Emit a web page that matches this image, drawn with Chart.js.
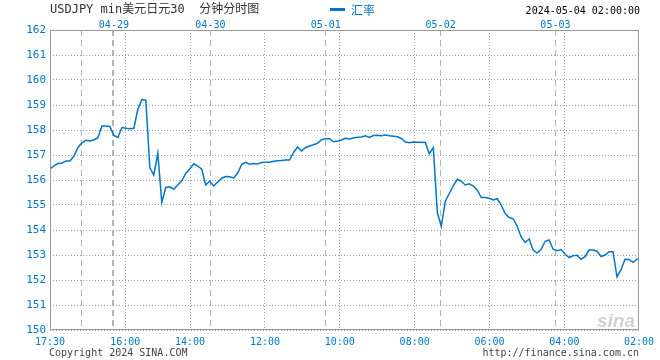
<!DOCTYPE html>
<html><head><meta charset="utf-8">
<script src="https://cdn.jsdelivr.net/npm/chart.js@4.4.1/dist/chart.umd.min.js"></script>
<style>
html,body{margin:0;padding:0;background:#fff;}
#wrap{position:relative;width:660px;height:360px;overflow:hidden;background:#fff;}
canvas{position:absolute;left:0;top:0;}
.t{position:absolute;white-space:pre;font-family:"DejaVu Sans Mono","Noto Sans CJK SC",monospace;line-height:12px;}
</style></head><body>
<div id="wrap">
<canvas id="c" width="660" height="360"></canvas>
<div class="t" style="left:50px;top:3px;font-size:12px;color:#333;">USDJPY min美元日元30  分钟分时图</div>
<div style="position:absolute;left:330px;top:8px;width:15px;height:3px;background:#0078c8"></div>
<div class="t" style="left:351px;top:4px;font-size:12px;color:#0078c8;font-family:'Noto Sans CJK SC',sans-serif;">汇率</div>
<div class="t" style="right:20px;top:5px;font-size:10px;color:#000;">2024-05-04 02:00:00</div>
<div class="t" style="left:49px;top:347px;font-size:10px;color:#444;">Copyright 2024 SINA.COM</div>
<div class="t" style="right:21px;top:347px;font-size:10px;color:#444;">http://finance.sina.com.cn</div>
<div class="t" style="left:597px;top:311px;font-size:19px;line-height:19px;color:#d2d2d2;font-family:'Liberation Sans',sans-serif;font-weight:bold;font-style:italic;">sina</div>
</div>
<script>
const seriesName = '汇率';
const rateValues = [
156.44,156.57,156.66,156.68,156.76,156.76,156.96,157.30,157.49,157.59,
157.56,157.60,157.69,158.16,158.16,158.14,157.78,157.70,158.10,158.07,
158.05,158.07,158.83,159.22,159.19,156.50,156.20,157.07,155.10,155.70,
155.73,155.63,155.80,155.97,156.26,156.44,156.65,156.56,156.43,155.80,
155.96,155.76,155.92,156.07,156.14,156.13,156.08,156.28,156.62,156.71,
156.63,156.66,156.64,156.70,156.71,156.71,156.75,156.77,156.78,156.80,
156.80,157.10,157.32,157.16,157.30,157.36,157.41,157.47,157.61,157.65,
157.65,157.53,157.56,157.60,157.67,157.64,157.68,157.71,157.72,157.77,
157.70,157.78,157.79,157.77,157.80,157.77,157.75,157.73,157.66,157.52,
157.49,157.52,157.51,157.51,157.50,157.05,157.30,154.70,154.15,155.15,
155.46,155.77,156.03,155.95,155.80,155.85,155.76,155.60,155.30,155.30,
155.27,155.20,155.25,155.00,154.66,154.50,154.45,154.15,153.72,153.50,
153.64,153.20,153.08,153.23,153.55,153.60,153.23,153.17,153.22,153.04,
152.90,152.97,152.99,152.83,152.93,153.20,153.20,153.15,152.94,153.00,
153.13,153.13,152.13,152.40,152.83,152.82,152.71,152.83,152.83
];
const timeTickPos = [0, 18.83, 35.08, 53.83, 72.58, 91.33, 110.08, 128.83, 147.5];
const timeTickLabels = ['17:30','16:00','14:00','12:00','10:00','08:00','06:00','04:00','02:00'];
const dayTickPos = [7.83, 15.58, 16.0, 40.17, 69.08, 97.83, 126.58];
const dayTickLabels = ['', '', '04-29', '04-30', '05-01', '05-02', '05-03'];
const yMin = 150, yMax = 162, yStep = 1;
const xMax = 147.5;

const blue = '#0078c8';
const mono = "'DejaVu Sans Mono', monospace";

const boxPlugin = {
  id: 'box',
  afterDraw(chart) {
    const {ctx, chartArea: a} = chart;
    ctx.save();
    ctx.strokeStyle = '#999';
    ctx.lineWidth = 1;
    ctx.setLineDash([]);
    ctx.strokeRect(a.left + 0.5, a.top + 0.5, a.right - a.left - 1, a.bottom - a.top - 1);
    ctx.restore();
  }
};

new Chart(document.getElementById('c'), {
  type: 'line',
  data: {
    datasets: [{
      label: seriesName,
      data: rateValues.map((v, i) => ({x: i, y: v})),
      borderColor: blue,
      borderWidth: 1.5,
      pointRadius: 0,
      tension: 0,
      fill: false
    }]
  },
  options: {
    responsive: false,
    devicePixelRatio: 1,
    animation: false,
    parsing: false,
    layout: {padding: {left: 0, right: 20, top: 0, bottom: 0}},
    plugins: {legend: {display: false}, tooltip: {enabled: false}, title: {display: false}},
    scales: {
      x: {
        type: 'linear', position: 'bottom', min: 0, max: xMax,
        afterBuildTicks: s => { s.ticks = timeTickPos.map(v => ({value: v})); },
        afterFit: s => { s.height = 30; },
        ticks: {
          autoSkip: false, maxRotation: 0, padding: 6, color: blue,
          font: {family: mono, size: 10},
          callback: (v, i) => timeTickLabels[i]
        },
        grid: {color: '#a0a0a0', lineWidth: 1, drawTicks: false},
        border: {display: false, dash: [1, 2]}
      },
      x2: {
        type: 'linear', position: 'top', min: 0, max: xMax,
        afterBuildTicks: s => { s.ticks = dayTickPos.map(v => ({value: v})); },
        afterFit: s => { s.height = 30; },
        ticks: {
          autoSkip: false, maxRotation: 0, padding: 0, color: blue,
          font: {family: mono, size: 10, lineHeight: 1},
          callback: (v, i) => dayTickLabels[i]
        },
        grid: {color: '#b4b4b4', lineWidth: 1, drawTicks: false},
        border: {display: false, dash: [6, 4]}
      },
      y: {
        type: 'linear', position: 'left', min: yMin, max: yMax,
        afterFit: s => { s.width = 50; },
        ticks: {stepSize: yStep, padding: 4, color: blue, font: {family: mono, size: 11}},
        grid: {color: '#a0a0a0', lineWidth: 1, drawTicks: false},
        border: {display: false, dash: [1, 2]}
      }
    }
  },
  plugins: [boxPlugin]
});
</script>
</body></html>
